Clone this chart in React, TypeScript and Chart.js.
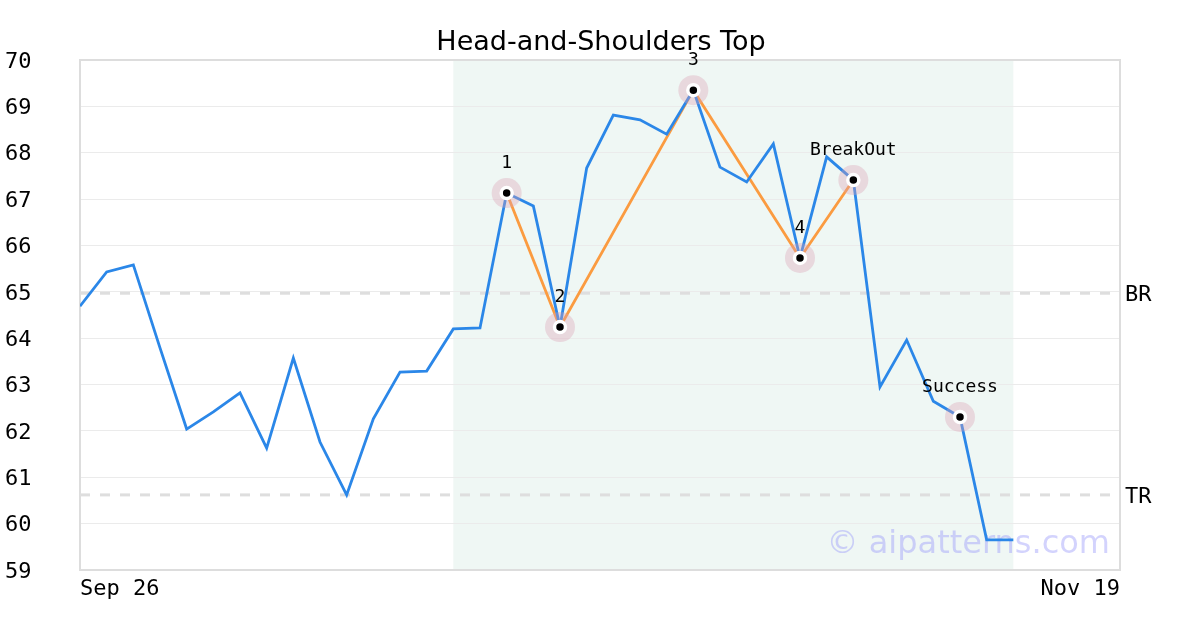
import React, { useEffect, useRef } from "react";
import { Chart, registerables } from "chart.js";

Chart.register(...registerables);

const closes = [
  64.69, 65.43, 65.58, 63.79, 62.04, 62.41, 62.82, 61.63, 63.57, 61.76,
  60.62, 62.26, 63.27, 63.29, 64.2, 64.22, 67.13, 66.85, 64.24, 67.67,
  68.81, 68.71, 68.4, 69.35, 67.69, 67.37, 68.19, 65.73, 67.91, 67.41,
  62.95, 63.96, 62.64, 62.3, 59.65, 59.65,
];
const xTickLabels = ["Sep 26", "Nov 19"];
const xTickIndex = [0, 39];
const yTickValues = [59, 60, 61, 62, 63, 64, 65, 66, 67, 68, 69, 70];
const patternIdx = [16, 18, 23, 27, 29];
const markerIdx = [16, 18, 23, 27, 29, 33];
const markerLabels = ["1", "2", "3", "4", "BreakOut", "Success"];
const levelValues = [64.97, 60.62];
const levelLabels = ["BR", "TR"];
const shadeRange = [14, 35];
const titleText = "Head-and-Shoulders Top";
const watermark = "\u00a9 aipatterns.com";

const MONO = "'DejaVu Sans Mono', monospace";
const SANS = "'DejaVu Sans', sans-serif";

const decor = {
  id: "decor",
  beforeDraw(chart: any) {
    const { ctx, chartArea: a, scales } = chart;
    const x = scales.x;
    ctx.save();
    ctx.fillStyle = "#eff7f4";
    const x0 = x.getPixelForValue(shadeRange[0]);
    const x1 = x.getPixelForValue(shadeRange[1]);
    ctx.fillRect(x0, a.top, x1 - x0, a.bottom - a.top);
    ctx.restore();
  },
  beforeDatasetsDraw(chart: any) {
    const { ctx, chartArea: a, scales } = chart;
    const y = scales.y;
    ctx.save();
    ctx.strokeStyle = "#dddddd";
    ctx.lineWidth = 2;
    ctx.strokeRect(a.left, a.top, a.right - a.left, a.bottom - a.top);
    ctx.setLineDash([10, 10]);
    ctx.lineWidth = 3;
    ctx.strokeStyle = "#dedede";
    levelValues.forEach((v, i) => {
      const py = y.getPixelForValue(v);
      ctx.beginPath();
      ctx.moveTo(a.left, py);
      ctx.lineTo(a.right, py);
      ctx.stroke();
      ctx.fillStyle = "#000";
      ctx.font = `22px ${MONO}`;
      ctx.textAlign = "left";
      ctx.textBaseline = "middle";
      ctx.fillText(levelLabels[i], a.right + 5, py + 2);
    });
    ctx.setLineDash([]);
    // y tick labels
    ctx.fillStyle = "#000";
    ctx.font = `22px ${MONO}`;
    ctx.textAlign = "left";
    ctx.textBaseline = "middle";
    yTickValues.forEach((v) => {
      ctx.fillText(String(v), 5, y.getPixelForValue(v) + 2);
    });
    // watermark
    ctx.font = `32px ${SANS}`;
    ctx.fillStyle = "rgba(150,150,250,0.42)";
    ctx.textAlign = "right";
    ctx.textBaseline = "alphabetic";
    ctx.fillText(watermark, a.right - 10, 553);
    ctx.restore();
  },
  afterDraw(chart: any) {
    const { ctx, scales } = chart;
    const x = scales.x;
    const y = scales.y;
    ctx.save();
    ctx.fillStyle = "#000";
    ctx.font = `18px ${MONO}`;
    ctx.textAlign = "center";
    ctx.textBaseline = "middle";
    markerIdx.forEach((idx, i) => {
      const px = x.getPixelForValue(idx);
      const py = y.getPixelForValue(closes[idx]);
      ctx.fillText(markerLabels[i], px, py - 30);
    });
    ctx.font = `27px ${SANS}`;
    ctx.textBaseline = "alphabetic";
    ctx.fillText(titleText, 601, 50);
    ctx.restore();
  },
};

export default function App() {
  const ref = useRef<HTMLCanvasElement | null>(null);
  useEffect(() => {
    if (!ref.current) return;
    const main = closes.map((v, i) => ({ x: i, y: v }));
    const pattern = patternIdx.map((i) => ({ x: i, y: closes[i] }));
    const markers = markerIdx.map((i) => ({ x: i, y: closes[i] }));
    const chart = new Chart(ref.current, {
      type: "line",
      data: {
        datasets: [
          {
            data: markers,
            showLine: false,
            pointRadius: 5.5,
            pointBackgroundColor: "#000",
            pointBorderColor: "#fff",
            pointBorderWidth: 3.5,
            order: 0,
          } as any,
          {
            data: markers,
            showLine: false,
            pointRadius: 15,
            pointBackgroundColor: "rgba(220,160,180,0.36)",
            pointBorderWidth: 0,
            order: 1,
          },
          {
            data: main,
            borderColor: "#2b87e8",
            borderWidth: 2.8,
            pointRadius: 0,
            tension: 0,
            order: 2,
          },
          {
            data: pattern,
            borderColor: "#fb9b40",
            borderWidth: 2.8,
            pointRadius: 0,
            tension: 0,
            order: 3,
          },
        ],
      },
      options: {
        animation: false,
        responsive: false,
        events: [],
        layout: { padding: { left: 5, right: 80, top: 60, bottom: 0 } },
        plugins: {
          legend: { display: false },
          tooltip: { enabled: false },
          title: { display: false },
        },
        scales: {
          x: {
            type: "linear",
            min: 0,
            max: 39,
            grid: { display: false, drawTicks: false },
            border: { display: false },
            afterBuildTicks: (s: any) => {
              s.ticks = xTickIndex.map((v) => ({ value: v }));
            },
            afterFit: (s: any) => {
              s.height = 60;
            },
            ticks: {
              align: "inner",
              maxRotation: 0,
              autoSkip: false,
              padding: 6,
              color: "#000",
              font: { family: MONO, size: 22 },
              callback: (v: any) => {
                const k = xTickIndex.indexOf(Number(v));
                return k >= 0 ? xTickLabels[k] : "";
              },
            },
          },
          y: {
            min: 59,
            max: 70,
            grid: { color: "#ebebeb", lineWidth: 1, drawTicks: false },
            border: { display: false },
            afterFit: (s: any) => {
              s.width = 75;
            },
            ticks: {
              stepSize: 1,
              display: false,
            },
          },
        },
      },
      plugins: [decor],
    } as any);
    return () => chart.destroy();
  }, []);
  return (
    <div style={{ position: "absolute", left: 0, top: 0, width: 1200, height: 630, background: "#fff" }}>
      <canvas ref={ref} width={1200} height={630} />
    </div>
  );
}
